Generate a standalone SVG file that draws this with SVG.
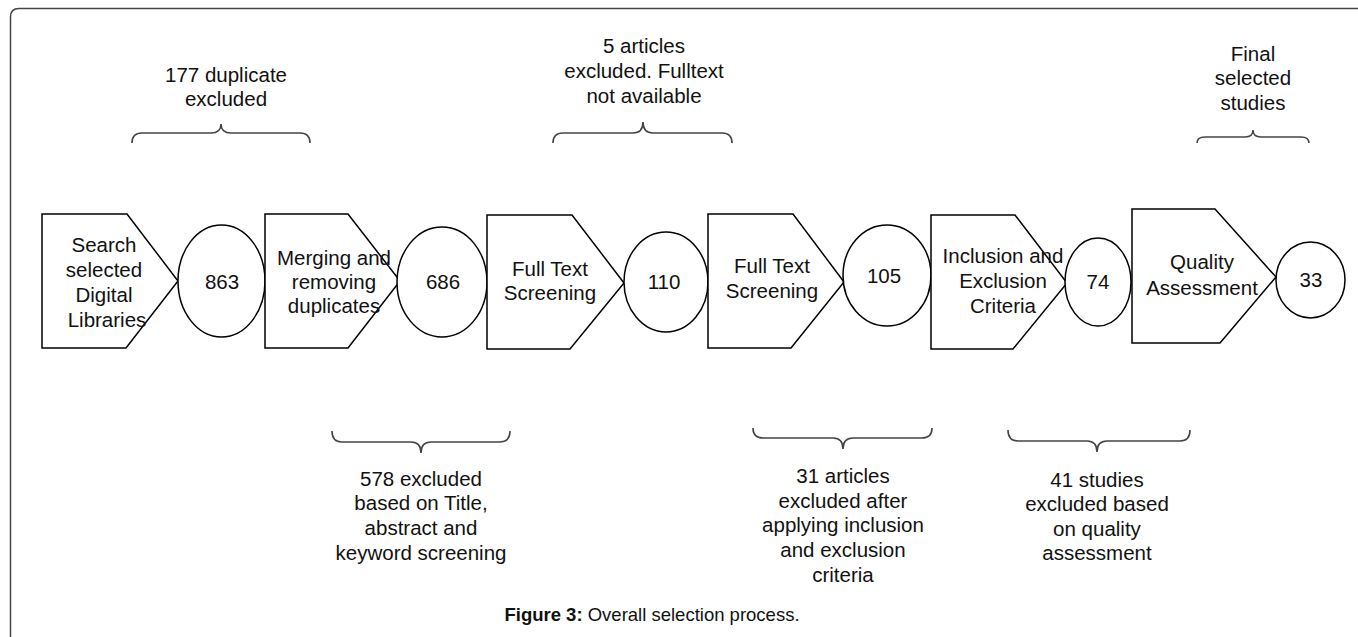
<svg xmlns="http://www.w3.org/2000/svg" width="1358" height="637" viewBox="0 0 1358 637">
<style>
.shape{fill:#fff;stroke:#000;stroke-width:1.5}
.brace{fill:none;stroke:#444;stroke-width:1.6}
.frame{fill:none;stroke:#444;stroke-width:1.5}
text{font-family:"Liberation Sans",Arial,sans-serif;font-size:20.5px;fill:#111;text-anchor:middle}
.cap{font-size:18.5px}
</style>
<rect width="1358" height="637" fill="#fff"/>
<path class="frame" d="M10.5,637 L10.5,17 Q10.5,8.5 19,8.5 L1358,8.5"/>

<g id="connectors">
<path class="brace" d="M132,143 Q132,133 142,133 L211,133 Q221,133 221,124 Q221,133 231,133 L300,133 Q310,133 310,143"/>
<path class="brace" d="M553,143 Q553,133 563,133 L633,133 Q643,133 643,122 Q643,133 653,133 L722,133 Q732,133 732,143"/>
<path class="brace" d="M1197,143 Q1197,137 1205,137 L1245,137 Q1253,137 1253,130 Q1253,137 1261,137 L1301,137 Q1309,137 1309,143"/>
<path class="brace" d="M332,431 Q332,442 342,442 L411,442 Q421,442 421,453 Q421,442 431,442 L500,442 Q510,442 510,431"/>
<path class="brace" d="M753,428 Q753,438 763,438 L833,438 Q843,438 843,449 Q843,438 853,438 L922,438 Q932,438 932,428"/>
<path class="brace" d="M1008,430 Q1008,441 1018,441 L1087,441 Q1097,441 1097,452 Q1097,441 1107,441 L1180,441 Q1190,441 1190,430"/>
</g>

<g id="n1">
<polygon class="shape" points="42,214 127,214 178,281 126,348 42,348"/>
<text x="104" y="252">Search</text>
<text x="104" y="277">selected</text>
<text x="104" y="302">Digital</text>
<text x="107" y="327">Libraries</text>
</g>
<g id="e1">
<ellipse class="shape" cx="221.5" cy="281" rx="43.5" ry="56"/>
<text x="222" y="289">863</text>
</g>
<g id="n2">
<polygon class="shape" points="265,214 348,214 400,281 348,348 265,348"/>
<text x="334" y="265">Merging and</text>
<text x="334" y="289">removing</text>
<text x="334" y="313">duplicates</text>
</g>
<g id="e2">
<ellipse class="shape" cx="442" cy="282" rx="45" ry="55"/>
<text x="443" y="289">686</text>
</g>
<g id="n3">
<polygon class="shape" points="487,215 572,215 624,283 570,349 487,349"/>
<text x="550" y="276">Full Text</text>
<text x="550" y="300">Screening</text>
</g>
<g id="e3">
<ellipse class="shape" cx="666" cy="282" rx="42" ry="50"/>
<text x="664" y="289">110</text>
</g>
<g id="n4">
<polygon class="shape" points="708,214 793,214 844,282 791,348 708,348"/>
<text x="772" y="273">Full Text</text>
<text x="772" y="298">Screening</text>
</g>
<g id="e4">
<ellipse class="shape" cx="887" cy="275.5" rx="44" ry="50.5"/>
<text x="884" y="283">105</text>
</g>
<g id="n5">
<polygon class="shape" points="931,215 1015,215 1067,283 1013,349 931,349"/>
<text x="1003" y="263">Inclusion and</text>
<text x="1003" y="288">Exclusion</text>
<text x="1003" y="313">Criteria</text>
</g>
<g id="e5">
<ellipse class="shape" cx="1098" cy="282" rx="33" ry="44"/>
<text x="1098" y="289">74</text>
</g>
<g id="n6">
<polygon class="shape" points="1132,209 1215,209 1276,277 1220,343 1132,343"/>
<text x="1202" y="269">Quality</text>
<text x="1202" y="295">Assessment</text>
</g>
<g id="e6">
<ellipse class="shape" cx="1310.5" cy="280" rx="34.5" ry="38"/>
<text x="1311" y="287">33</text>
</g>

<g id="l1">
<text x="226" y="82">177 duplicate</text>
<text x="226" y="106">excluded</text>
</g>
<g id="l2">
<text x="644" y="53">5 articles</text>
<text x="644" y="78">excluded. Fulltext</text>
<text x="644" y="103">not available</text>
</g>
<g id="l3">
<text x="1253" y="61">Final</text>
<text x="1253" y="85">selected</text>
<text x="1253" y="110">studies</text>
</g>
<g id="l4">
<text x="421" y="486">578 excluded</text>
<text x="421" y="510">based on Title,</text>
<text x="421" y="535">abstract and</text>
<text x="421" y="560">keyword screening</text>
</g>
<g id="l5">
<text x="843" y="483">31 articles</text>
<text x="843" y="508">excluded after</text>
<text x="843" y="532">applying inclusion</text>
<text x="843" y="557">and exclusion</text>
<text x="843" y="582">criteria</text>
</g>
<g id="l6">
<text x="1097" y="487">41 studies</text>
<text x="1097" y="511">excluded based</text>
<text x="1097" y="536">on quality</text>
<text x="1097" y="560">assessment</text>
</g>
<g id="caption">
<text class="cap" x="652" y="621"><tspan font-weight="bold">Figure 3:</tspan> Overall selection process.</text>
</g>
</svg>
